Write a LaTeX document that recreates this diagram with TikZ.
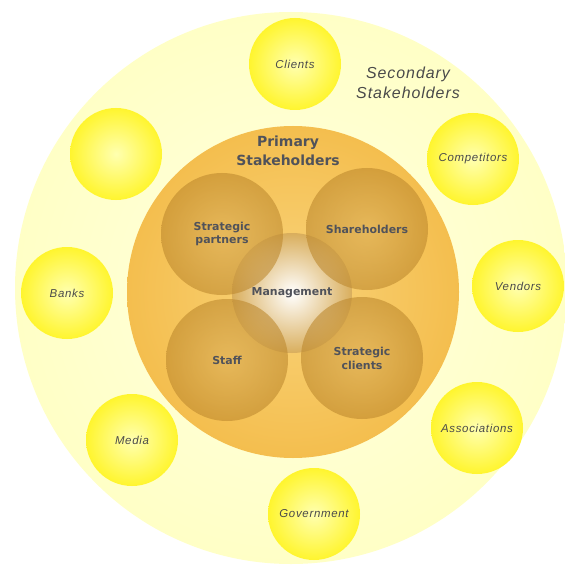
\documentclass[tikz,border=0pt]{standalone}
\usepackage{fontspec}
\setmainfont{Liberation Sans}
\newfontfamily\dejabold{DejaVu Sans}
\newfontfamily\midsans[LetterSpace=6]{Liberation Sans}
\definecolor{outerpale}{HTML}{FFFFC6}
\definecolor{outerpaleC}{HTML}{FFFFE0}
\definecolor{secY}{HTML}{FFF52E}
\definecolor{secYC}{HTML}{FFFFB0}
\definecolor{primO}{HTML}{F4BE4E}
\definecolor{primOC}{HTML}{F9D37A}
\definecolor{petal}{HTML}{BC872C}
\definecolor{petalC}{HTML}{DCAE56}
\definecolor{mgmtE}{HTML}{D9AE5C}
\definecolor{txtS}{HTML}{4A4A4A}
\definecolor{txtP}{HTML}{50525A}
\tikzset{
  secnode/.style={circle, minimum size=92bp, inner sep=0pt, inner color=secYC, outer color=secY,
    font=\midsans\itshape\fontsize{11.5}{13}\selectfont, text=txtS},
  petalnode/.style={circle, minimum size=122bp, inner sep=0pt, fill opacity=0.58, text opacity=1,
    inner color=petalC, outer color=petal, align=center,
    font=\dejabold\bfseries\fontsize{11}{14}\selectfont, text=txtP},
  titleP/.style={align=center, font=\dejabold\bfseries\fontsize{14}{19}\selectfont, text=txtP},
  titleS/.style={align=center, font=\midsans\itshape\fontsize{16}{20.5}\selectfont, text=txtS},
}
\begin{document}
\begin{tikzpicture}[x=1bp,y=-1bp]
\useasboundingbox (0,0) rectangle (565,565);
\fill[white] (0,0) rectangle (565,565);
% outer circle
\shade[inner color=outerpaleC, outer color=outerpale] (291,288) circle[radius=276];
\node[titleS] (sec) at (408,83) {Secondary\\Stakeholders};
% secondary stakeholders
\node[secnode] (clients) at (295,64) {Clients};
\node[secnode] (empty) at (116,154) {};
\node[secnode] (competitors) at (473,159) {Competitors};
\node[secnode] (vendors) at (518,286) {Vendors};
\node[secnode] (banks) at (67,293) {Banks};
\node[secnode] (media) at (132,440) {Media};
\node[secnode] (assoc) at (477,428) {Associations};
\node[secnode] (gov) at (314,514) {Government};
% primary circle
\shade[inner color=primOC, outer color=primO] (293,292) circle[radius=166];
\node[titleP] (prim) at (288,151) {Primary\\Stakeholders};
% management
\node[circle, minimum size=120bp, inner sep=0pt, inner color=white, outer color=mgmtE] (mgmt) at (292,293) {};
% petals
\node[petalnode] (partners) at (222,234) {Strategic\\partners};
\node[petalnode] (share) at (367,229) {Shareholders};
\node[petalnode] (staff) at (227,360) {Staff};
\node[petalnode] (sclients) at (362,358) {Strategic\\clients};
\node[font=\dejabold\bfseries\fontsize{11}{14}\selectfont, text=txtP] (mgmtlabel) at (mgmt) {Management};
\end{tikzpicture}
\end{document}
